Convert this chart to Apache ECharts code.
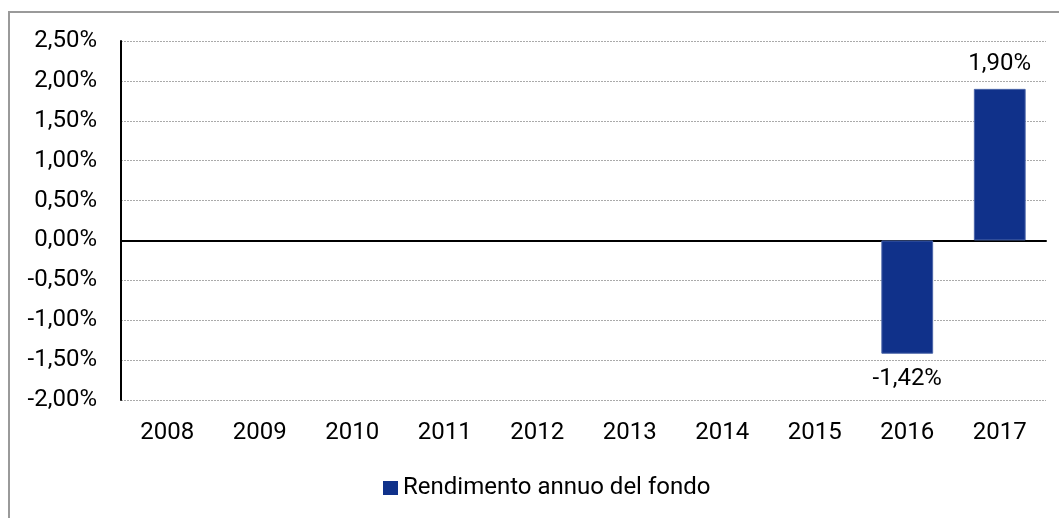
<!DOCTYPE html>
<html>
<head>
<meta charset="utf-8">
<script src="https://cdn.jsdelivr.net/npm/echarts@6/dist/echarts.min.js"></script>
<style>
html,body{margin:0;padding:0;background:#fff;}
#frame{position:absolute;left:8px;top:11px;width:1060px;height:520px;border:2px solid #9a9a9a;box-sizing:border-box;}
#main{position:absolute;left:0;top:0;width:1059px;height:518px;}
</style>
</head>
<body>
<div id="frame"></div>
<div id="main"></div>
<script>
var anni=['2008','2009','2010','2011','2012','2013','2014','2015','2016','2017'];
var rendimento=[null,null,null,null,null,null,null,null,-1.42,1.90];
var nomeSerie='Rendimento annuo del fondo';

// formato italiano: virgola decimale
function fmt(v){
	return v.toFixed(2).replace('.',',')+'%';
}

var myChart=echarts.init(document.getElementById('main'));
var font='Roboto';
var option={
	animation:false,
	textStyle:{fontFamily:font},
	grid:{left:121,right:13,top:41,bottom:118},
	legend:{
		top:471,left:378,
		itemWidth:15,itemHeight:14,
		icon:'rect',
		itemStyle:{borderWidth:0},
		textStyle:{fontSize:24,color:'#000',fontFamily:font},
		data:[nomeSerie]
	},
	xAxis:{
		type:'category',
		data:anni,
		axisLine:{onZero:true,lineStyle:{color:'#000',width:2}},
		axisTick:{show:false},
		axisLabel:{fontSize:24,color:'#000',margin:21},
		position:'bottom'
	},
	yAxis:{
		type:'value',
		min:-2,max:2.5,interval:0.5,
		axisLine:{show:true,lineStyle:{color:'#000',width:2}},
		axisTick:{show:false},
		axisLabel:{fontSize:24,color:'#000',margin:24,formatter:fmt},
		splitLine:{lineStyle:{color:'#aaa',type:[2,1],width:1}}
	},
	series:[{
		name:nomeSerie,
		type:'bar',
		data:rendimento,
		barWidth:'56%',
		itemStyle:{color:'#10318a',borderColor:'#4a64a8',borderWidth:1},
		label:{show:true,position:'outside',fontSize:24,color:'#000',distance:13,
			formatter:function(p){return p.value==null?'':fmt(p.value);}}
	}]
};
myChart.setOption(option);
</script>
</body>
</html>
